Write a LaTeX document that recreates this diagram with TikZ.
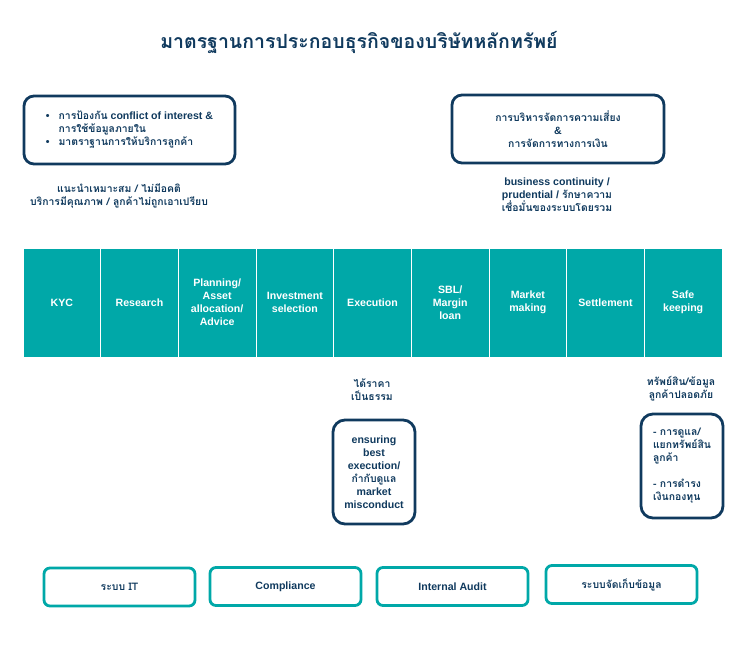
\documentclass[tikz,border=0pt]{standalone}
\usepackage{fontspec}
\setmainfont{Liberation Sans}
\newfontfamily\thai[Script=Thai]{Loma}
\newcommand\thx[1]{{\thai\bfseries\fontsize{10.4}{13}\selectfont #1}}
\definecolor{navy}{RGB}{16,58,94}
\definecolor{tealbar}{RGB}{0,168,168}
\tikzset{
  navybox/.style={draw=navy, line width=2.8pt, rounded corners=10pt, align=center, inner sep=0pt},
  tealbox/.style={draw=tealbar, line width=2.8pt, rounded corners=6pt, minimum width=151pt, minimum height=38pt, inner sep=0pt},
  cell/.style={fill=tealbar, draw=white, line width=0.9pt, minimum width=77.67pt, minimum height=109pt, text=white, align=center, inner sep=0pt, font=\bfseries\fontsize{10.6}{13}\selectfont},
  note/.style={align=center, inner sep=0pt}
}
\begin{document}
\begin{tikzpicture}[x=1pt,y=-1pt, font=\bfseries\fontsize{10.6}{13}\selectfont, text=navy]
\useasboundingbox[fill=white] (0,0) rectangle (745,645);

\node[note] (title) at (359,43) {\thai\bfseries\fontsize{19.5}{22}\selectfont มาตรฐานการประกอบธุรกิจของบริษัทหลักทรัพย์};

\node[navybox, minimum width=211pt, minimum height=68pt] (conf) at (129.5,130)
 {\renewcommand\arraystretch{1}\begin{tabular}{@{}l@{\hspace{9pt}}l@{}}
 \textbullet & \thx{การป้องกัน} conflict of interest \&\\
  & \thx{การใช้ข้อมูลภายใน}\\
 \textbullet & \thx{มาตราฐานการให้บริการลูกค้า}
 \end{tabular}};

\node[navybox, minimum width=212pt, minimum height=68pt] (risk) at (558,129)
 {\thx{การบริหารจัดการความเสี่ยง}\\\&\\\thx{การจัดการทางการเงิน}};

\node[note] (suit) at (119,196) {\thx{แนะนำเหมาะสม / ไม่มีอคติ}\\\thx{บริการมีคุณภาพ / ลูกค้าไม่ถูกเอาเปรียบ}};

\node[note] (bcp) at (557,195) {business continuity /\\prudential / \thx{รักษาความ}\\\thx{เชื่อมั่นของระบบโดยรวม}};

\foreach \i/\t in {0/KYC,1/Research,2/{Planning/\\Asset\\allocation/\\Advice},3/{Investment\\selection},4/Execution,5/{SBL/\\Margin\\loan},6/{Market\\making},7/Settlement,8/{Safe\\keeping}}{
  \node[cell] (c\i) at ({23+77.67*\i+38.83},302.5) {\t};
}

\node[note] (fair) at (372,389.5) {\thx{ได้ราคา}\\\thx{เป็นธรรม}};
\node[navybox, minimum width=82pt, minimum height=104pt, rounded corners=12pt] (exec) at (374,472)
 {ensuring\\best\\execution/\\\thx{กำกับดูแล}\\market\\misconduct};

\node[note] (safe) at (681,388.5) {\thx{ทรัพย์สิน/ข้อมูล}\\\thx{ลูกค้าปลอดภัย}};
\node[navybox, minimum width=82pt, minimum height=104pt, rounded corners=12pt, align=left] (keep) at (682,466)
 {\thx{- การดูแล/}\\\thx{แยกทรัพย์สิน}\\\thx{ลูกค้า}\\[13pt]\thx{- การดำรง}\\\thx{เงินกองทุน}};

\node[tealbox] (it) at (119.5,587) {\thx{ระบบ IT}};
\node[tealbox] (comp) at (285.5,586.5) {Compliance};
\node[tealbox] (audit) at (452.5,586.5) {Internal Audit};
\node[tealbox] (data) at (621.5,584.5) {\thx{ระบบจัดเก็บข้อมูล}};
\end{tikzpicture}
\end{document}
